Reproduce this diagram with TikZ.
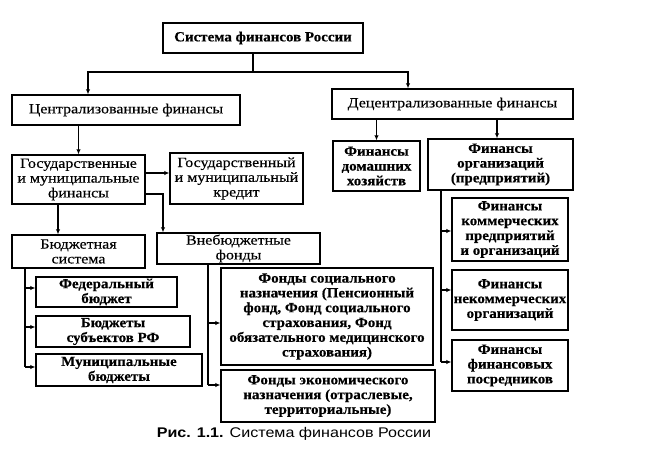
\documentclass[tikz,border=0pt]{standalone}
\usepackage{fontspec}
\setmainfont{Liberation Serif}[UprightFeatures={FakeStretch=1.14,FakeBold=0.3},BoldFeatures={FakeStretch=1.07,FakeBold=0.4}]
\newfontfamily\capfont{Liberation Sans}[FakeStretch=1.15]
\usetikzlibrary{arrows.meta}
\begin{document}
\begin{tikzpicture}[x=1pt,y=-1pt,
  box/.style={draw, line width=1.4pt, inner sep=1pt, align=center,
    font=\fontsize{14}{14.8}\selectfont},
  bbox/.style={box, font=\fontsize{14}{14.8}\selectfont\bfseries},
  conn/.style={line width=1.1pt},
  arr/.style={conn, -{Latex[length=5pt,width=4.5pt]}}]
\useasboundingbox (0,0) rectangle (648,452);
% nodes
\node[bbox, minimum width=200pt, minimum height=30pt] (title) at (263,38) {Система финансов России};
\node[box, minimum width=228pt, minimum height=30pt] (central) at (126,110) {Централизованные финансы};
\node[box, minimum width=241pt, minimum height=30pt] (decentral) at (452.5,104) {Децентрализованные финансы};
\node[bbox, minimum width=87pt, minimum height=50pt] (house) at (376.5,166) {Финансы\\домашних\\хозяйств};
\node[bbox, minimum width=145pt, minimum height=51pt] (org) at (500.5,164.5) {Финансы\\организаций\\(предприятий)};
\node[box, minimum width=133pt, minimum height=49pt] (gos) at (78.5,179.5) {Государственные\\и муниципальные\\финансы};
\node[box, minimum width=133pt, minimum height=51pt] (credit) at (236.5,178.5) {Государственный\\и муниципальный\\кредит};
\node[box, minimum width=133pt, minimum height=33pt] (budget) at (78.5,251.5) {Бюджетная\\система};
\node[box, minimum width=163pt, minimum height=31pt] (vneb) at (238.5,248.5) {Внебюджетные\\фонды};
\node[bbox, minimum width=141pt, minimum height=30pt] (fed) at (106.5,292) {Федеральный\\бюджет};
\node[bbox, minimum width=154pt, minimum height=31pt] (subj) at (113,331.5) {Бюджеты\\субъектов РФ};
\node[bbox, minimum width=166pt, minimum height=32pt] (mun) at (119,370) {Муниципальные\\бюджеты};
\node[bbox, minimum width=212pt, minimum height=97pt] (social) at (327,316.5) {Фонды социального\\назначения (Пенсионный\\фонд, Фонд социального\\страхования, Фонд\\обязательного медицинского\\страхования)};
\node[bbox, minimum width=214pt, minimum height=52pt] (econ) at (328,396) {Фонды экономического\\назначения (отраслевые,\\территориальные)};
\node[bbox, minimum width=116pt, minimum height=63pt] (comm) at (510,229.5) {Финансы\\коммерческих\\предприятий\\и организаций};
\node[bbox, minimum width=116pt, minimum height=60pt] (noncomm) at (510,300) {Финансы\\некоммерческих\\организаций};
\node[bbox, minimum width=116pt, minimum height=51pt] (posr) at (510,365.5) {Финансы\\финансовых\\посредников};
\node[font=\capfont\fontsize{14}{16}\selectfont] (cap) at (294,434) {\textbf{Рис. 1.1.} Система финансов России};
% connectors
\coordinate (tj) at (253,72);
\draw[conn] ([xshift=-10pt]title.south) -- (tj);
\draw[arr] (tj) -| ([xshift=-38pt]central.north);
\draw[arr] (tj) -| ([xshift=-44.5pt]decentral.north);
\draw[arr] (decentral.south -| house.north) -- (house.north);
\coordinate (orgin) at ([xshift=-3.5pt]org.north);
\draw[arr] (decentral.south -| orgin) -- (orgin);
\draw[arr] (central.south -| gos.north) -- (gos.north);
\coordinate (g1) at ([yshift=6.5pt]gos.east);
\draw[arr] (g1) -- (g1 -| credit.west);
\draw[arr] ([yshift=-14.5pt]gos.east) -| ([xshift=-75.5pt]vneb.north);
\draw[arr] ([xshift=-20.5pt]gos.south) -- ([xshift=-20.5pt]budget.north);
% budget branch
\coordinate (bb) at ([xshift=-53.5pt]budget.south);
\coordinate (f1) at ([yshift=4pt]fed.west);
\coordinate (f2) at ([yshift=4.5pt]subj.west);
\coordinate (f3) at ([yshift=3pt]mun.west);
\draw[conn] (bb) -- (bb |- f3);
\draw[arr] (bb |- f1) -- (f1);
\draw[arr] (bb |- f2) -- (f2);
\draw[arr] (bb |- f3) -- (f3);
% vneb branch
\coordinate (vb) at ([xshift=-30.5pt]vneb.south);
\coordinate (v1) at ([yshift=-6.5pt]social.west);
\coordinate (v2) at ([yshift=11pt]econ.west);
\draw[conn] (vb) -- (vb |- v2);
\draw[arr] (vb |- v1) -- (v1);
\draw[arr] (vb |- v2) -- (v2);
% org branch
\coordinate (ob) at ([xshift=-59.5pt]org.south);
\coordinate (o1) at ([yshift=-1.5pt]comm.west);
\coordinate (o2) at ([yshift=10pt]noncomm.west);
\coordinate (o3) at ([yshift=3.5pt]posr.west);
\draw[conn] (ob) -- (ob |- o3);
\draw[arr] (ob |- o1) -- (o1);
\draw[arr] (ob |- o2) -- (o2);
\draw[arr] (ob |- o3) -- (o3);
\end{tikzpicture}
\end{document}
